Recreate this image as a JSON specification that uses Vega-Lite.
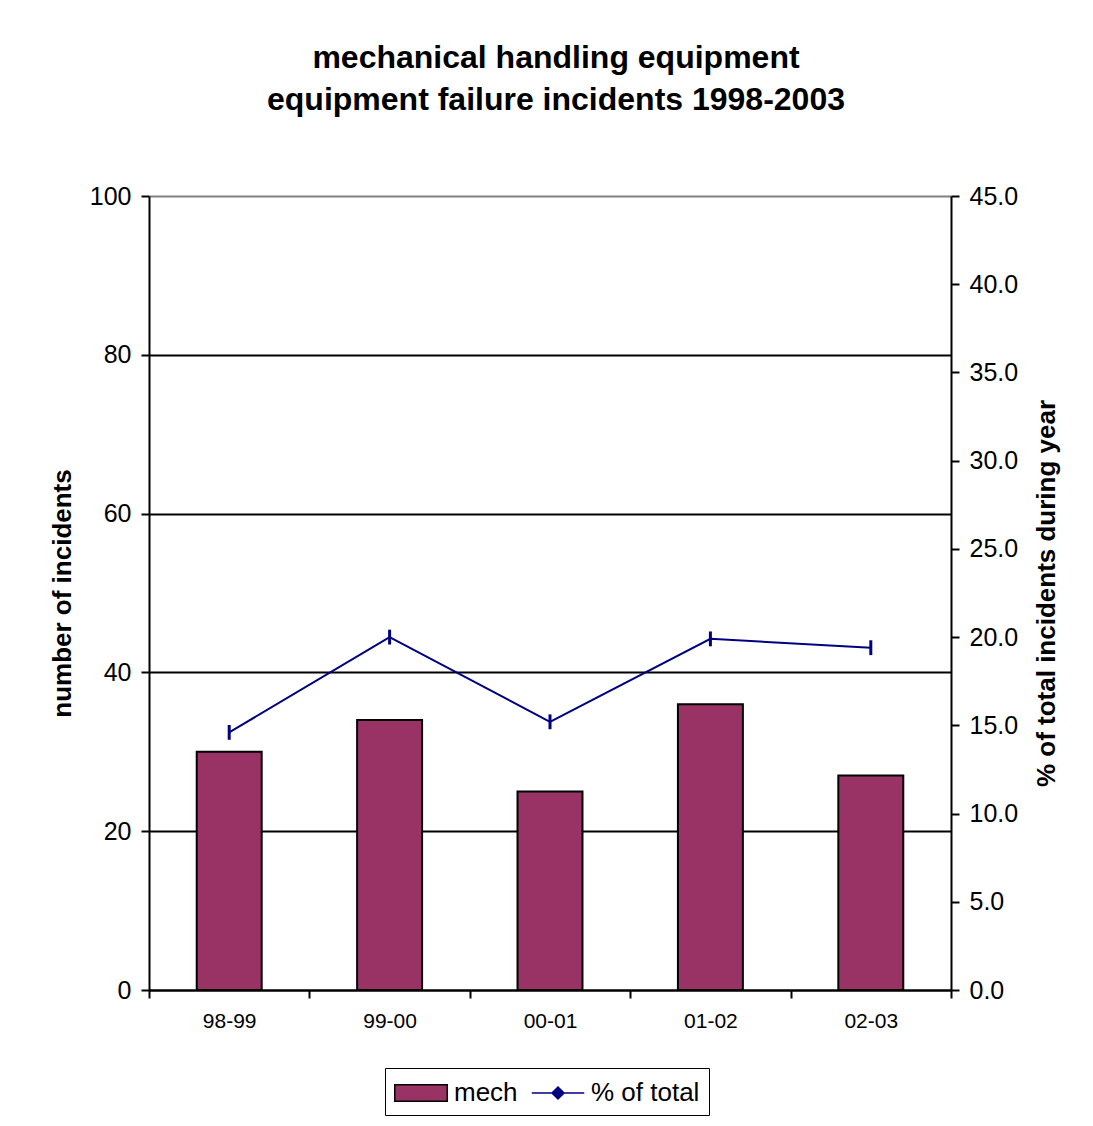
{
  "$schema": "https://vega.github.io/schema/vega-lite/v6.json",
  "width": 802,
  "height": 794,
  "autosize": {"type": "none"},
  "padding": {"left": 149, "top": 196, "right": 142, "bottom": 136},
  "background": "white",
  "config": {"font": "Liberation Sans", "view": {"stroke": null}},
  "title": {
    "text": ["mechanical handling equipment", "equipment failure incidents 1998-2003"],
    "fontSize": 32,
    "fontWeight": "bold",
    "color": "black",
    "anchor": "middle",
    "lineHeight": 42,
    "offset": 67,
    "dx": 6
  },
  "data": {
    "values": [
      {"period": "98-99", "mech": 30, "pct": 14.6},
      {"period": "99-00", "mech": 34, "pct": 20.0},
      {"period": "00-01", "mech": 25, "pct": 15.2},
      {"period": "01-02", "mech": 36, "pct": 19.9},
      {"period": "02-03", "mech": 27, "pct": 19.4}
    ]
  },
  "encoding": {
    "x": {
      "field": "period",
      "type": "nominal",
      "sort": null,
      "scale": {"paddingInner": 0, "paddingOuter": 0},
      "axis": {
        "title": null,
        "labelAngle": 0,
        "labelFontSize": 21,
        "labelColor": "black",
        "tickBand": "extent",
        "tickSize": 8,
        "tickColor": "black",
        "tickWidth": 2,
        "domainColor": "black",
        "domainWidth": 2,
        "labelPadding": 12,
        "grid": false
      }
    }
  },
  "layer": [
    {
      "mark": {"type": "bar", "width": {"band": 0.405}, "fill": "#993366", "stroke": "black", "strokeWidth": 2},
      "encoding": {
        "y": {
          "field": "mech",
          "type": "quantitative",
          "scale": {"domain": [0, 100]},
          "axis": {
            "title": "number of incidents",
            "titleFontSize": 26,
            "titleFontWeight": "bold",
            "titleColor": "black",
            "titlePadding": 14,
            "values": [0, 20, 40, 60, 80, 100],
            "labelFontSize": 25,
            "labelColor": "black",
            "labelPadding": 10,
            "tickSize": 8,
            "tickColor": "black",
            "tickWidth": 2,
            "domainColor": "black",
            "domainWidth": 2,
            "grid": true,
            "gridColor": {"condition": {"test": "datum.value == 100", "value": "#808080"}, "value": "black"},
            "gridWidth": 2
          }
        }
      }
    },
    {
      "encoding": {
        "y": {
          "field": "pct",
          "type": "quantitative",
          "scale": {"domain": [0, 45]},
          "axis": {
            "orient": "right",
            "title": "% of total incidents during year",
            "titleAngle": 270,
            "titleBaseline": "top",
            "titleFontSize": 26,
            "titleFontWeight": "bold",
            "titleColor": "black",
            "titlePadding": 16,
            "values": [0, 5, 10, 15, 20, 25, 30, 35, 40, 45],
            "format": ".1f",
            "labelFontSize": 25,
            "labelColor": "black",
            "labelPadding": 10,
            "tickSize": 8,
            "tickColor": "black",
            "tickWidth": 2,
            "domainColor": "black",
            "domainWidth": 2,
            "grid": false
          }
        }
      },
      "layer": [
        {"mark": {"type": "line", "strokeWidth": 2, "color": "#000080"}},
        {"mark": {"type": "point", "shape": "M0,-1L0,1", "strokeWidth": 3, "opacity": 1, "color": "#000080", "size": 220}},
        {
          "transform": [{"filter": "datum.mech < 0"}],
          "mark": {"type": "point", "filled": true, "opacity": 1},
          "encoding": {
            "shape": {
              "datum": "% of total",
              "type": "nominal",
              "scale": {
                "domain": ["mech", "% of total"],
                "range": ["M-1.75,-0.55H1.75V0.55H-1.75Z", "M-1.75,0H1.75M0,-0.4L0.4,0L0,0.4L-0.4,0Z"]
              },
              "legend": {
                "title": null,
                "orient": "none",
                "legendX": 236,
                "legendY": 872,
                "direction": "horizontal",
                "labelFontSize": 26,
                "labelColor": "black",
                "symbolSize": 900,
                "symbolOffset": 11,
                "symbolStrokeWidth": 1.5,
                "symbolOpacity": 1,
                "strokeColor": "black",
                "padding": 9,
                "columnPadding": 10,
                "labelOffset": 17,
                "encode": {"legend": {"strokeWidth": {"value": 2}}}
              }
            },
            "fill": {
              "datum": "% of total",
              "type": "nominal",
              "scale": {"domain": ["mech", "% of total"], "range": ["#993366", "#000080"]}
            },
            "stroke": {
              "datum": "% of total",
              "type": "nominal",
              "scale": {"domain": ["mech", "% of total"], "range": ["black", "#000080"]}
            }
          }
        }
      ]
    }
  ],
  "resolve": {"scale": {"y": "independent"}}
}
